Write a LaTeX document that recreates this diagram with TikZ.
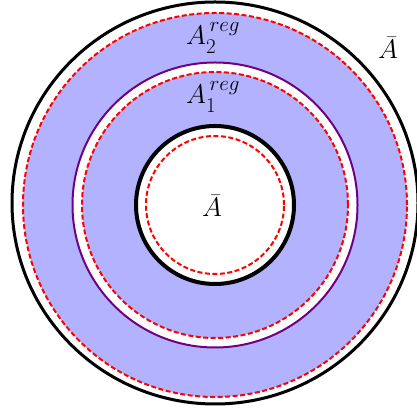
\RequirePackage{fix-cm}
\documentclass[tikz,border=0pt]{standalone}
\definecolor{regblue}{RGB}{178, 178, 255}
\definecolor{regred}{RGB}{255, 0, 0}
\definecolor{regpurple}{RGB}{112, 0, 128}
\usepackage{tikz}
\usepackage{amsmath}
\DeclareMathSizes{27}{27}{21}{15}

\begin{document}
\begin{tikzpicture}[x=1pt, y=1pt,
  cut/.style={draw=regred, line width=2pt, dash pattern=on 5pt off 2.5pt},
  lbl/.style={anchor=base west, inner sep=0pt, font=\fontsize{27}{32}\selectfont}]
\useasboundingbox (0,0) rectangle (416,419);
\coordinate (c) at (215,214);
% shaded regions
\fill[regblue] (c) circle (192);
\fill[white] (c) circle (142.5);
\fill[regblue] (c) circle (133);
\fill[white] (c) circle (79);
% boundaries
\draw[black, line width=3pt] (215,216) ellipse (203 and 201);
\draw[regpurple, line width=2pt] (c) circle (142.5);
\draw[black, line width=4pt] (c) circle (79);
\foreach \r in {192,133,69} {
  \draw[cut] (c) circle (\r);
}
% labels
\node[lbl] (atwo) at (186,374) {$A_2^{\,reg}$};
\node[lbl] (aone) at (186,315) {$A_1^{\,reg}$};
\node[lbl] (ain) at (202,202) {$\bar{A}$};
\node[lbl] (aout) at (378,360) {$\bar{A}$};
\end{tikzpicture}
\end{document}
